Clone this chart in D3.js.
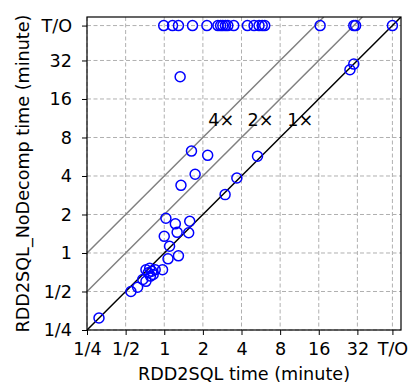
<!DOCTYPE html>
<html>
<head>
<meta charset="utf-8">
<script src="https://cdn.jsdelivr.net/npm/d3@7"></script>
<style>
  body { margin: 0; background: #fff; }
  text { font-family: "DejaVu Sans", sans-serif; }
</style>
</head>
<body>
<script>
var width = 417;
var height = 389;
var margin = {left: 87, top: 17, right: 16, bottom: 59};

// timeouts are drawn at T/O = 60 minutes
var TIMEOUT = 60;

var rdd2sqlTime = [0.99, 1.16, 1.29, 1.66, 2.15, 2.62, 2.75, 2.86, 3.0, 3.13, 3.48, 4.45, 5.01, 5.48, 5.8, 6.07, 16.4, 30, 31, 60,
  1.33, 28, 30, 2.18, 5.33, 3.68, 2.98, 1.63, 1.74, 1.35, 1.03, 1.22, 1.58, 1.26, 1.0, 1.55, 1.1, 1.29, 1.07, 0.97,
  0.72, 0.77, 0.80, 0.82, 0.78, 0.75, 0.85, 0.68, 0.72, 0.62, 0.55, 0.31];
var noDecompTime = [60, 60, 60, 60, 60, 60, 60, 60, 60, 60, 60, 60, 60, 60, 60, 60, 60, 60, 60, 60,
  23.9, 27.1, 30, 5.8, 5.71, 3.86, 2.86, 6.26, 4.13, 3.38, 1.87, 1.69, 1.77, 1.45, 1.35, 1.44, 1.13, 0.95, 0.9, 0.74,
  0.74, 0.76, 0.72, 0.68, 0.66, 0.70, 0.74, 0.62, 0.60, 0.54, 0.5, 0.31];

var tickValues = [0.25, 0.5, 1, 2, 4, 8, 16, 32, TIMEOUT];
var tickLabels = ["1/4", "1/2", "1", "2", "4", "8", "16", "32", "T/O"];

var speedups = [4, 2, 1];
var speedupLabelX = [2.2, 4.45, 9.1];
var speedupLabelY = 9.9;

var fontSize = 17.6;

var svg = d3.select("body").append("svg").attr("width", width).attr("height", height);

var x = d3.scaleLog().base(2).domain([0.25, 70]).range([margin.left, width - margin.right]);
var y = d3.scaleLog().base(2).domain([0.25, 70]).range([height - margin.bottom, margin.top]);

var fmt = function(d, i) { return tickLabels[i]; };

// grid
svg.append("g").selectAll("line").data(tickValues).enter().append("line")
  .attr("x1", function(d) { return x(d); }).attr("x2", function(d) { return x(d); })
  .attr("y1", y(70)).attr("y2", y(0.25))
  .attr("stroke", "#b0b0b0").attr("stroke-dasharray", "4,2.5").attr("stroke-width", 1);
svg.append("g").selectAll("line").data(tickValues).enter().append("line")
  .attr("y1", function(d) { return y(d); }).attr("y2", function(d) { return y(d); })
  .attr("x1", x(0.25)).attr("x2", x(70))
  .attr("stroke", "#b0b0b0").attr("stroke-dasharray", "4,2.5").attr("stroke-width", 1);

// speedup lines
svg.append("clipPath").attr("id", "plotclip").append("rect")
  .attr("x", x(0.25)).attr("y", y(70)).attr("width", x(70) - x(0.25)).attr("height", y(0.25) - y(70));

svg.append("g").attr("clip-path", "url(#plotclip)").selectAll("line").data(speedups).enter().append("line")
  .attr("x1", x(0.25)).attr("y1", function(d) { return y(0.25 * d); })
  .attr("x2", function(d) { return x(70 / d); }).attr("y2", y(70))
  .attr("stroke", function(d) { return d == 1 ? "#000" : "#808080"; })
  .attr("stroke-width", 1.5);

svg.append("g").selectAll("text").data(speedups).enter().append("text")
  .attr("x", function(d, i) { return x(speedupLabelX[i]); })
  .attr("y", y(speedupLabelY))
  .attr("font-size", fontSize)
  .text(function(d) { return d + "\u00d7"; });

// points
svg.append("g").selectAll("circle").data(rdd2sqlTime).enter().append("circle")
  .attr("cx", function(d) { return x(d); })
  .attr("cy", function(d, i) { return y(noDecompTime[i]); })
  .attr("r", 5)
  .attr("fill", "none")
  .attr("stroke", "#0000ff")
  .attr("stroke-width", 1.5);

// axes
var xAxis = d3.axisBottom(x).tickValues(tickValues).tickFormat(fmt).tickSize(5).tickPadding(8);
var yAxis = d3.axisLeft(y).tickValues(tickValues).tickFormat(fmt).tickSize(5).tickPadding(10);

var gx = svg.append("g").attr("transform", "translate(0," + (height - margin.bottom) + ")").call(xAxis);
var gy = svg.append("g").attr("transform", "translate(" + margin.left + ",0)").call(yAxis);
[gx, gy].forEach(function(g) {
  g.select(".domain").remove();
  g.selectAll("text").attr("font-size", fontSize).attr("fill", "#000").style("font-family", "DejaVu Sans");
  g.selectAll("line").attr("stroke", "#000");
});

// frame
svg.append("rect")
  .attr("x", x(0.25)).attr("y", y(70)).attr("width", x(70) - x(0.25)).attr("height", y(0.25) - y(70))
  .attr("fill", "none").attr("stroke", "#000").attr("stroke-width", 1.2);

svg.append("text")
  .attr("x", (x(0.25) + x(70)) / 2).attr("y", 380)
  .attr("text-anchor", "middle").attr("font-size", fontSize)
  .text("RDD2SQL time (minute)");

svg.append("text")
  .attr("transform", "translate(29," + ((y(0.25) + y(70)) / 2) + ") rotate(-90)")
  .attr("text-anchor", "middle").attr("font-size", fontSize)
  .text("RDD2SQL_NoDecomp time (minute)");
</script>
</body>
</html>
